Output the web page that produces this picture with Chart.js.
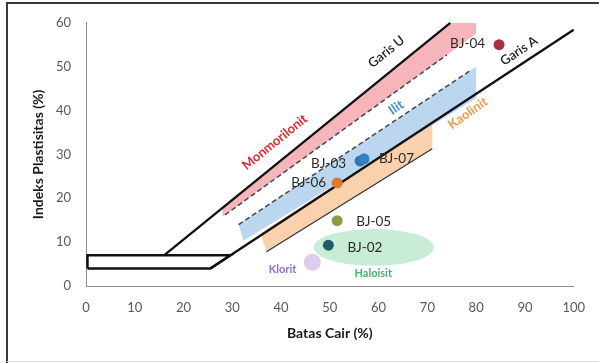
<!DOCTYPE html>
<html>
<head>
<meta charset="utf-8">
<script src="https://cdn.jsdelivr.net/npm/chart.js@4.4.1/dist/chart.umd.min.js"></script>
<style>
  html, body { margin: 0; padding: 0; background: #fff; }
  canvas { display: block; }
</style>
</head>
<body>
<canvas id="plasticity" width="599" height="363"></canvas>
<script>
// Soil samples: liquid limit (LL, %) and plasticity index (PI, %)
const sampleNames = ['BJ-02', 'BJ-03', 'BJ-04', 'BJ-05', 'BJ-06', 'BJ-07'];
const sampleLL    = [49.7, 56.2, 84.7, 51.5, 51.5, 57.0];
const samplePI    = [9.3, 28.5, 55.0, 14.9, 23.5, 29.0];
const sampleColors = ['#1d5d68', '#2e74b5', '#a3333a', '#8c9c45', '#e07a25', '#3380c0'];

// Casagrande reference lines
const aLineLL = [25.5, 100];
const aLinePI = [4, 58.4];
const uLineLL = [16, 74.7];
const uLinePI = [7, 60];
// CL-ML strip (PI 4 to 7)
const clmlLL = [0.3, 25.5, 29.6, 0.3, 0.3];
const clmlPI = [4, 4, 7, 7, 4];

// Clay-mineral zones (outline corners)
const montLL = [28, 80, 80, 74.7, 28];
const montPI = [15.8, 57.5, 60, 60, 18.0];
const montEdgeLL = [28.5, 74];
const montEdgePI = [16.2, 52.7];
const illiteLL = [31.3, 80, 80, 32.3];
const illitePI = [14.0, 50.0, 42.8, 10.3];
const illiteEdgeLL = [31.3, 79];
const illiteEdgePI = [14.0, 49.25];
const kaolLL = [35.8, 71, 71, 37];
const kaolPI = [12.0, 37.5, 31.3, 7.8];
const kaolEdgeLL = [37, 71];
const kaolEdgePI = [7.8, 31.3];

// Chlorite spot and halloysite region (centre LL, PI; half-widths LL, PI)
const chloriteLL = [46.4];
const chloritePI = [5.4];
const halloysite = [59, 8.8, 12.3, 4.2];

const pts = (xs, ys) => xs.map((x, i) => ({ x: x, y: ys[i] }));

// Zone and line captions, positioned in data units
const captions = [
  { text: 'Garis U',      ll: 61.6, pi: 53.4, angle: -39, color: '#1e1e1e', font: '600 13px Lato' },
  { text: 'Garis A',      ll: 88.8, pi: 53.6, angle: -34, color: '#1e1e1e', font: '600 13px Lato' },
  { text: 'Monmorilonit', ll: 38.7, pi: 32.8, angle: -39, color: '#e8232d', font: 'bold 13px Lato' },
  { text: 'Ilit',         ll: 63.6, pi: 40.7, angle: -34, color: '#3a8fd2', font: 'bold 13px Lato' },
  { text: 'Kaolinit',     ll: 78.3, pi: 39.4, angle: -35, color: '#f0994c', font: 'bold 13px Lato' },
  { text: 'Klorit',       ll: 40.3, pi: 3.7,  angle: 0,   color: '#8c6bc8', font: 'bold 11px Lato' },
  { text: 'Haloisit',     ll: 58.9, pi: 2.9,  angle: 0,   color: '#47b266', font: 'bold 11px Lato' }
];

// Sample label placement relative to each marker (pixels)
const labelPlacement = {
  'BJ-02': { dx: 19, dy: 2, align: 'left' },
  'BJ-03': { dx: -14, dy: 3, align: 'right' },
  'BJ-04': { dx: -14, dy: -1, align: 'right' },
  'BJ-05': { dx: 19, dy: 1, align: 'left' },
  'BJ-06': { dx: -11, dy: 0, align: 'right' },
  'BJ-07': { dx: 15, dy: 0, align: 'left' }
};

const overlay = {
  id: 'overlay',
  beforeDraw(chart) {
    const ctx = chart.ctx;
    ctx.save();
    ctx.fillStyle = '#fff';
    ctx.fillRect(0, 0, chart.width, chart.height);
    ctx.strokeStyle = '#3a3a3a';
    ctx.lineWidth = 2;
    ctx.beginPath();
    ctx.moveTo(7, chart.height);
    ctx.lineTo(7, 3);
    ctx.lineTo(chart.width, 3);
    ctx.stroke();
    ctx.strokeStyle = '#dcdcdc';
    ctx.lineWidth = 1;
    ctx.beginPath();
    ctx.moveTo(7, chart.height - 1.5);
    ctx.lineTo(chart.width, chart.height - 1.5);
    ctx.stroke();
    ctx.restore();
  },
  beforeDatasetsDraw(chart) {
    const { ctx, scales: { x, y } } = chart;
    const [cLL, cPI, hLL, hPI] = halloysite;
    const cx = x.getPixelForValue(cLL);
    const cy = y.getPixelForValue(cPI);
    const rx = x.getPixelForValue(cLL + hLL) - cx;
    const ry = cy - y.getPixelForValue(cPI + hPI);
    ctx.save();
    ctx.fillStyle = '#c9ecd6';
    ctx.beginPath();
    ctx.ellipse(cx, cy, rx, ry, 0, 0, Math.PI * 2);
    ctx.fill();
    ctx.restore();
  },
  afterDatasetsDraw(chart) {
    const { ctx, scales: { x, y } } = chart;
    ctx.save();
    ctx.textBaseline = 'middle';
    captions.forEach(c => {
      ctx.save();
      ctx.translate(x.getPixelForValue(c.ll), y.getPixelForValue(c.pi));
      ctx.rotate(c.angle * Math.PI / 180);
      ctx.font = c.font;
      ctx.fillStyle = c.color;
      ctx.textAlign = 'center';
      ctx.fillText(c.text, 0, 0);
      ctx.restore();
    });
    ctx.font = '13.5px Lato';
    ctx.fillStyle = '#2a2a2a';
    sampleNames.forEach((name, i) => {
      const p = labelPlacement[name];
      ctx.textAlign = p.align;
      ctx.fillText(name, x.getPixelForValue(sampleLL[i]) + p.dx, y.getPixelForValue(samplePI[i]) + p.dy);
    });
    ctx.restore();
  }
};

const zone = (data, color, order) => ({
  data, showLine: true, fill: 'shape', backgroundColor: color,
  borderWidth: 0, pointRadius: 0, tension: 0, order
});
const stroke = (data, color, width, dash, order) => ({
  data, showLine: true, fill: false, borderColor: color, borderWidth: width,
  borderDash: dash, pointRadius: 0, tension: 0, order, clip: false
});

new Chart(document.getElementById('plasticity'), {
  type: 'scatter',
  data: {
    datasets: [
      { label: 'Sampel', data: pts(sampleLL, samplePI), pointRadius: 5.5,
        pointBackgroundColor: sampleColors, pointBorderWidth: 0, order: 1 },
      { label: 'Klorit', data: pts(chloriteLL, chloritePI), pointRadius: 8.5,
        pointBackgroundColor: '#dccdea', pointBorderWidth: 0, order: 2 },
      stroke(pts(aLineLL, aLinePI), '#111', 2.3, [], 3),
      stroke(pts(uLineLL, uLinePI), '#111', 2.3, [], 3),
      stroke(pts(clmlLL, clmlPI), '#111', 2.5, [], 3),
      stroke(pts(montEdgeLL, montEdgePI), '#3e4654', 1.5, [5, 3], 4),
      stroke(pts(illiteEdgeLL, illiteEdgePI), '#3e4654', 1.5, [5, 3], 4),
      stroke(pts(kaolEdgeLL, kaolEdgePI), '#333', 1.2, [], 4),
      zone(pts(montLL, montPI), '#f6b5ba', 10),
      zone(pts(illiteLL, illitePI), '#bbd6ee', 10),
      zone(pts(kaolLL, kaolPI), '#f9d1ad', 10)
    ]
  },
  options: {
    responsive: false,
    animation: false,
    devicePixelRatio: 1,
    layout: { padding: { top: 21, right: 24, left: 0, bottom: 0 } },
    plugins: { legend: { display: false }, tooltip: { enabled: false } },
    scales: {
      x: {
        type: 'linear', min: 0, max: 100,
        afterFit: s => { s.height = 77; },
        grid: { display: false, drawTicks: false },
        border: { display: true, color: '#8c8c8c', width: 1 },
        ticks: { stepSize: 10, padding: 14, color: '#595959', font: { family: 'Lato', size: 13 } },
        title: { display: true, text: 'Batas Cair (%)', color: '#1a1a1a',
                 font: { family: 'Lato', size: 14, weight: 'bold', lineHeight: 1.2 },
                 padding: { top: 0, bottom: 21.6 } }
      },
      y: {
        type: 'linear', min: 0, max: 60,
        afterFit: s => { s.width = 86; },
        grid: { display: false, drawTicks: false },
        border: { display: true, color: '#8c8c8c', width: 1 },
        ticks: { stepSize: 10, padding: 15, color: '#595959', font: { family: 'Lato', size: 13 } },
        title: { display: true, text: 'Indeks Plastisitas (%)', color: '#1a1a1a',
                 font: { family: 'Lato', size: 14, weight: 'bold', lineHeight: 1.2 },
                 padding: { top: 29.6, bottom: 0 } }
      }
    }
  },
  plugins: [overlay]
});
</script>
</body>
</html>
